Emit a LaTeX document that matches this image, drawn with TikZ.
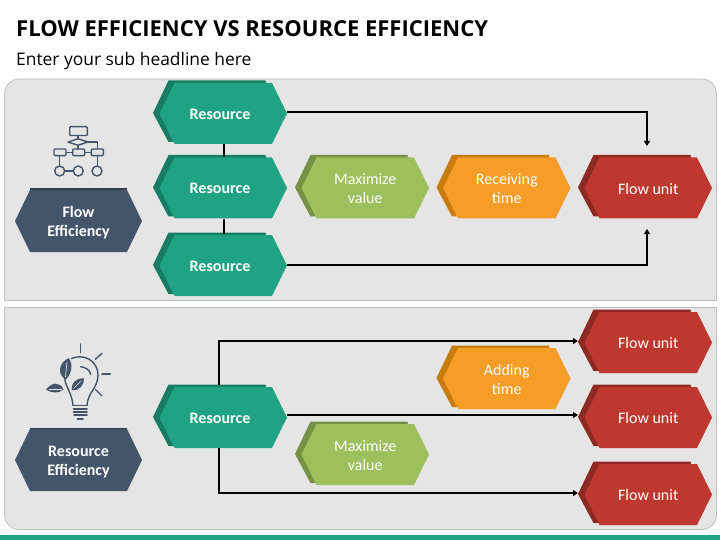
\documentclass[tikz,border=0pt]{standalone}
\usepackage{fontspec}
\setmainfont{Carlito}
\newfontfamily\headfont{Open Sans}
\usetikzlibrary{arrows.meta}
\definecolor{panelfill}{HTML}{E5E5E5}
\definecolor{panelline}{HTML}{BFBFBF}
\definecolor{teal}{HTML}{20A384}
\definecolor{tealdark}{HTML}{187C64}
\definecolor{slate}{HTML}{44546A}
\definecolor{slatedark}{HTML}{333F50}
\definecolor{leaf}{HTML}{9DBF5C}
\definecolor{leafdark}{HTML}{769145}
\definecolor{amber}{HTML}{F59D26}
\definecolor{amberdark}{HTML}{C87C0E}
\definecolor{brick}{HTML}{BE3830}
\definecolor{brickdark}{HTML}{8E2A24}
\tikzset{
  x=1pt,y=-1pt,
  panel/.style={fill=panelfill,draw=panelline,line width=0.8pt},
  hexlabel/.style={inner sep=0pt,minimum width=127pt,minimum height=61pt,align=center,text=white,font=\fontsize{16}{19}\selectfont},
  reslabel/.style={font=\fontsize{16}{19}\selectfont\bfseries,minimum width=134pt,xshift=-3.25pt},
  wire/.style={line width=1.7pt,draw=black},
  arrowwire/.style={wire,-{Triangle[length=5pt,width=6pt]}},
  icon/.style={draw=slate,line width=1.4pt,line cap=round,line join=round},
  iconfill/.style={fill=slate,draw=none},
}
% #1 name, #2 left x, #3 top y, #4 fill, #5 dark, #6 text, #7 label options
\newcommand{\hexshape}[7]{%
  \fill[#5] (#2-6.5,#3+30) -- (#2+9,#3-2.5) -- (#2+106,#3-2.5) -- (#2+112,#3+30) -- (#2+14,#3+59) -- (#2+9,#3+59) -- cycle;
  \fill[#4] (#2,#3+30.5) -- (#2+15,#3) -- (#2+112.5,#3) -- (#2+127.5,#3+30.5) -- (#2+112.5,#3+61) -- (#2+15,#3+61) -- cycle;
  \node[hexlabel,#7] (#1) at (#2+63.75,#3+31.3) {\vphantom{A}#6};
}
\newcommand{\plainhex}[4]{%
  \fill[slatedark] (#2+15,#3-1.5) -- (#2+127-15,#3-1.5) -- (#2+127-15,#3+3) -- (#2+15,#3+3) -- cycle;
  \fill[slate] (#2,#3+31) -- (#2+15,#3) -- (#2+112,#3) -- (#2+127,#3+31) -- (#2+112,#3+62) -- (#2+15,#3+62) -- cycle;
  \node[hexlabel,font=\fontsize{16}{19}\selectfont\bfseries,minimum height=62pt] (#1) at (#2+63.5,#3+33) {#4};
}
\begin{document}
\begin{tikzpicture}
\useasboundingbox (0,0) rectangle (720,540);
\fill[white] (0,0) rectangle (720,540);
% title
\node[anchor=west,inner sep=0pt,font=\headfont\fontsize{22}{26}\selectfont\bfseries] (title) at (16,29) {FLOW EFFICIENCY VS RESOURCE EFFICIENCY};
\node[anchor=west,inner sep=0pt,font=\headfont\fontsize{17.4}{20}\selectfont] (subtitle) at (16,60.5) {Enter your sub headline here};
% panels
\draw[panel,rounded corners=15pt] (4.5,300.5) {[sharp corners] -- (4.5,200)} -- (4.5,79) -- (716.5,79) -- (716.5,200) {[sharp corners] -- (716.5,300.5)} [sharp corners] -- cycle;
\draw[panel,rounded corners=15pt] (4.5,307.5) {[sharp corners] -- (4.5,400)} -- (4.5,529.5) -- (716.5,529.5) -- (716.5,400) {[sharp corners] -- (716.5,307.5)} [sharp corners] -- cycle;
\fill[teal] (0,534.5) rectangle (720,540);
% hexagons
\plainhex{floweff}{15}{190}{Flow\\Efficiency}
\plainhex{reseff}{15}{429}{Resource\\Efficiency}
\hexshape{ra}{159.5}{83}{teal}{tealdark}{Resource}{reslabel}
\hexshape{rb}{159.5}{157.5}{teal}{tealdark}{Resource}{reslabel}
\hexshape{rc}{159.5}{235}{teal}{tealdark}{Resource}{reslabel}
\hexshape{mva}{301.5}{157.5}{leaf}{leafdark}{Maximize\\value}{}
\hexshape{rt}{443}{157.5}{amber}{amberdark}{Receiving\\time}{}
\hexshape{fua}{584.5}{157.5}{brick}{brickdark}{Flow unit}{}
\hexshape{rd}{159.5}{387}{teal}{tealdark}{Resource}{reslabel}
\hexshape{at}{443}{348}{amber}{amberdark}{Adding\\time}{}
\hexshape{mvb}{301.5}{424}{leaf}{leafdark}{Maximize\\value}{}
\hexshape{fub}{584.5}{312}{brick}{brickdark}{Flow unit}{}
\hexshape{fuc}{584.5}{387}{brick}{brickdark}{Flow unit}{}
\hexshape{fud}{584.5}{464}{brick}{brickdark}{Flow unit}{}
% connectors
\coordinate (fuatop) at (647,146);
\coordinate (fuabot) at (647,229);
\coordinate (rbtop) at (224,157);
\coordinate (rbbot) at (224,219);
\coordinate (ratap) at (224,144);
\coordinate (rctap) at (224,234);
\coordinate (raout) at (286.5,112);
\coordinate (rcout) at (286.5,265.3);
\draw[wire] (ratap) -- (rbtop);
\draw[wire] (rbbot) -- (rctap);
\draw[arrowwire] (raout) -- (fuatop |- raout) -- (fuatop);
\draw[arrowwire] (rcout) -- (fuabot |- rcout) -- (fuabot);
\coordinate (rdtop) at (219,385);
\coordinate (rdbot) at (219,448);
\coordinate (fubin) at (578,341);
\coordinate (fudin) at (578,493);
\coordinate (fucin) at (578,415);
\draw[arrowwire] (rdtop) -- (rdtop |- fubin) -- (fubin);
\draw[arrowwire] (rdbot) -- (rdbot |- fudin) -- (fudin);
\draw[arrowwire] (rd.east |- fucin) -- (fucin);
% flowchart icon
\begin{scope}[icon]
\draw[rounded corners=1pt] (69.7,126.7) rectangle (87.3,135.5);
\draw (78,135.5) -- (78,138.7);
\draw (68,142) -- (78,138.7) -- (87.8,142) -- (78,145.3) -- cycle;
\draw (78,145.3) -- (78,149);
\draw (87.8,142) -- (97.3,142) -- (97.3,149);
\draw[rounded corners=1pt] (54,149) rectangle (66,155.7);
\draw[rounded corners=1pt] (72.7,149) rectangle (84.7,155.7);
\draw[rounded corners=1pt] (91.3,149) rectangle (103.3,155.7);
\draw (66,152.3) -- (72.7,152.3);
\draw (84.7,152.3) -- (91.3,152.3);
\draw (59.7,155.7) -- (59.7,166);
\draw (97.3,155.7) -- (97.3,166);
\draw (59.7,171) circle[radius=5];
\draw (78.3,171) circle[radius=5];
\draw (97,171) circle[radius=5];
\draw (64.7,171) -- (73.3,171);
\end{scope}
% bulb icon
\begin{scope}[icon]
\draw (80.3,344) -- (80.3,352.7);
\draw (95.3,359.3) -- (102,353.3);
\draw (102,374) -- (110.3,374);
\draw (95.3,389.3) -- (102,396);
\draw (73,405) .. controls (71.5,392) and (66,388) .. (64.5,378);
\draw (71.5,358.5) .. controls (84,353) and (98,361) .. (98,375) .. controls (98,388) and (88,392) .. (87,405);
\draw (80.7,366.7) .. controls (86,367.5) and (90,370) .. (90.7,374.5);
\draw[line width=1.7pt] (73,405.5) -- (87,405.5);
\draw[line width=1.7pt] (73.5,408.7) -- (87,408.7);
\draw[line width=1.7pt] (73.5,412) -- (87,412);
\draw[line width=1.7pt] (74,415.3) -- (87,415.3);
\draw[line width=1.7pt] (77.5,419) -- (83,419);
\end{scope}
\fill[iconfill] (69,358) .. controls (58,363) and (57,375) .. (66,379.5) .. controls (72,373) and (73,364) .. (69,358) -- cycle;
\fill[iconfill] (46,389.5) .. controls (52,382) and (60,381.5) .. (63.5,389.5) .. controls (58,394) and (51,393) .. (46,389.5) -- cycle;
\fill[iconfill] (84,378.3) .. controls (75,378) and (71,384) .. (71.7,390) .. controls (80,391) and (84,385) .. (84,378.3) -- cycle;
\draw[panelfill,line width=0.7pt] (67,362) -- (65.5,377);
\draw[panelfill,line width=0.7pt] (81,381) -- (73.5,388.5);
\draw[panelfill,line width=0.7pt] (49,389.5) -- (62,389.5);
\end{tikzpicture}
\end{document}
